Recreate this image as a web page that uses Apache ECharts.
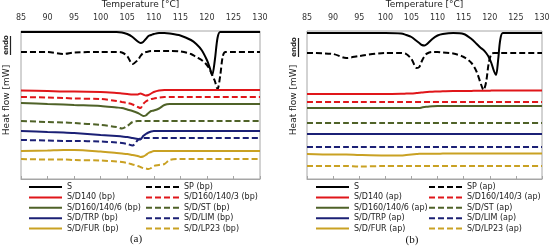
<!DOCTYPE html>
<html>
<head>
<meta charset="utf-8">
<script src="https://cdn.jsdelivr.net/npm/echarts@6/dist/echarts.min.js"></script>
<style>
    html, body { margin: 0; padding: 0; background: #fff; }
    #dsc { width: 550px; height: 249px; }
</style>
</head>
<body>
<div id="dsc"></div>
<script>
// temperatures sampled for panel (a) (bp) and panel (b) (ap)
var tempA = [85, 90, 93, 95, 100, 103, 104, 105, 106, 107, 107.5, 108, 108.5, 109, 109.5, 110, 111, 112, 113, 115, 117, 118, 119, 120, 120.5, 121, 121.5, 122, 122.5, 123, 123.5, 125, 130];
var tempB = [85, 90, 92.5, 95, 100, 103, 104, 105, 106, 106.5, 107, 107.5, 108, 109, 110, 111, 113, 115, 116.5, 117.5, 118.3, 118.8, 119.3, 119.8, 120.3, 120.8, 121.2, 121.6, 122, 122.5, 125, 130];

// heat flow, curves offset vertically (arbitrary units), panel (a)
var sA      = [147, 147, 147, 147, 147, 147, 146.5, 145, 142, 137.5, 136, 137, 140, 143, 144, 145, 146, 146, 145.5, 143.5, 139, 135, 129, 119, 112, 104, 119, 141, 147, 147, 147, 147, 147];
var spA     = [127, 127, 125, 126.5, 127, 127, 126.5, 123, 115, 119, 123, 126, 127, 127.5, 128, 128, 128, 128, 128, 127.5, 125, 122, 119, 114, 110, 104, 98, 90, 103, 123, 127, 127, 127];
var d140A   = [88.5, 88, 87.5, 87.5, 87, 86, 85.5, 85, 84.5, 84.5, 85.5, 84.5, 83.5, 84, 85.5, 87, 88.5, 89, 89, 89, 89, 89, 89, 89, 89, 89, 89, 89, 89, 89, 89, 89, 89];
var d1603A  = [82, 81.5, 81, 80.5, 80, 78, 77, 76, 74.5, 72, 71, 75, 77.5, 79, 80, 80.5, 81.5, 82, 82, 82, 82, 82, 82, 82, 82, 82, 82, 82, 82, 82, 82, 82, 82];
var d1606A  = [76, 75, 74.5, 74, 73, 71.5, 71, 69.5, 68, 66, 64.5, 63, 63.5, 66, 68, 68.5, 70.5, 74, 75, 75, 75, 75, 75, 75, 75, 75, 75, 75, 75, 75, 75, 75, 75];
var stA     = [58, 57, 56.5, 56, 54, 52, 50.5, 53, 57, 58, 58, 58, 58, 58, 58, 58, 58, 58, 58, 58, 58, 58, 58, 58, 58, 58, 58, 58, 58, 58, 58, 58, 58];
var trpA    = [48, 47, 46.5, 46, 44, 43, 42.5, 42, 41, 40, 39.5, 43, 45, 46.5, 47.5, 48, 48, 48, 48, 48, 48, 48, 48, 48, 48, 48, 48, 48, 48, 48, 48, 48, 48];
var limA    = [39, 38.5, 38, 38, 37.5, 36.5, 36, 35, 33.5, 39, 40.5, 41, 41, 41, 41, 41, 41, 41, 41, 41, 41, 41, 41, 41, 41, 41, 41, 41, 41, 41, 41, 41, 41];
var furA    = [28, 28.5, 29, 29, 27.5, 26, 25.5, 25, 24, 23, 22, 22.5, 24, 26, 27, 28, 28, 28, 28, 28, 28, 28, 28, 28, 28, 28, 28, 28, 28, 28, 28, 28, 28];
var lp23A   = [20, 19.5, 19.5, 19, 18.5, 17.5, 17, 16, 14.5, 13, 12, 11, 10.5, 10, 11, 13, 14, 15, 19, 20, 20, 20, 20, 20, 20, 20, 20, 20, 20, 20, 20, 20, 20];

// panel (b)
var sB      = [146, 146, 146, 146, 146, 145.5, 144, 142, 138, 136, 134, 133.5, 135, 140, 143.5, 145, 146, 145, 140, 135, 131, 129, 126, 122, 116, 108, 104, 119, 139, 146, 146, 146];
var spB     = [126, 125, 121, 123, 126, 126, 125, 120, 111, 112, 118, 123, 125.5, 127, 127, 126.5, 125.5, 122, 116, 107, 95, 89, 97, 116, 125, 126, 126, 126, 126, 126, 126, 126];
var d140B   = [85, 85, 85, 85, 85, 85.2, 85.4, 85.6, 86, 86.2, 86.5, 86.8, 87, 87.3, 87.5, 87.7, 88, 88, 88.1, 88.2, 88.2, 88.3, 88.3, 88.3, 88.4, 88.4, 88.4, 88.4, 88.5, 88.5, 88.5, 88.5];
var d1603B  = [77, 77, 77, 77, 77, 77, 77, 77, 77, 77, 77, 77, 77, 77, 77, 77, 77, 77, 77, 77, 77, 77, 77, 77, 77, 77, 77, 77, 77, 77, 77, 77];
var d1606B  = [71, 71, 71, 71, 71, 71, 71, 71, 71, 71, 71.5, 72, 72.2, 72.7, 73, 73, 73, 73, 73, 73, 73, 73, 73, 73, 73, 73, 73, 73, 73, 73, 73, 73];
var stB     = [56, 56, 56, 56, 56, 56, 56, 56, 56, 56, 56, 56, 56, 56, 56, 56, 56, 56, 56, 56, 56, 56, 56, 56, 56, 56, 56, 56, 56, 56, 56, 56];
var trpB    = [45, 45, 45, 45, 45, 45, 45, 45, 45, 45, 45, 45, 45, 45, 45, 45, 45, 45, 45, 45, 45, 45, 45, 45, 45, 45, 45, 45, 45, 45, 45, 45];
var limB    = [32, 32, 32, 32, 32, 32, 32, 32, 32, 32, 32, 32, 32, 32, 32, 32, 32, 32, 32, 32, 32, 32, 32, 32, 32, 32, 32, 32, 32, 32, 32, 32];
var furB    = [25, 24.5, 24.5, 24, 23.5, 23.5, 24, 24.5, 25, 25.2, 25.2, 25.2, 25.3, 25.3, 25.3, 25.4, 25.4, 25.5, 25.5, 25.5, 25.5, 25.5, 25.5, 25.5, 25.5, 25.5, 25.5, 25.5, 25.5, 25.5, 25.5, 25.5];
var lp23B   = [13, 13, 13, 12.5, 13, 13, 13, 13, 13, 13, 13, 13, 13, 13, 13, 13, 13, 13, 13, 13, 13, 13, 13, 13, 13, 13, 13, 13, 13, 13, 13, 13];

var tempTicks = [85, 90, 95, 100, 105, 110, 115, 120, 125, 130];

var BLACK = '#000000', RED = '#e0161a', GREEN = '#4f6228', NAVY = '#1b2075', GOLD = '#c9a123';
var DASH = [6, 3];

function zip(t, v) {
    var out = [];
    for (var i = 0; i < t.length; i++) out.push([t[i], v[i]]);
    return out;
}

function line(name, idx, t, v, color, dashed) {
    return {
        name: name,
        type: 'line',
        xAxisIndex: idx,
        yAxisIndex: idx,
        data: zip(t, v),
        symbol: 'none',
        smooth: 0.3,
        lineStyle: { color: color, width: 2, type: dashed ? DASH : 'solid' },
        // no marker in the legend, only the stroke
        itemStyle: { color: 'rgba(0,0,0,0)', borderColor: 'rgba(0,0,0,0)', borderWidth: 0 }
    };
}

var myChart = echarts.init(document.getElementById('dsc'));

var axisX = function (idx) {
    return {
        type: 'value',
        gridIndex: idx,
        position: 'top',
        min: tempTicks[0],
        max: tempTicks[tempTicks.length - 1],
        interval: 5,
        name: 'Temperature [°C]',
        nameLocation: 'middle',
        nameGap: 22,
        nameTextStyle: { fontFamily: 'DejaVu Sans', fontSize: 9, color: '#222' },
        axisLine: { lineStyle: { color: '#a6a6a6' } },
        axisTick: { length: 3, lineStyle: { color: '#a6a6a6' } },
        axisLabel: { fontFamily: 'DejaVu Sans', fontSize: 8, color: '#333', margin: 9 },
        splitLine: { show: false }
    };
};
var axisY = function (idx) {
    return {
        type: 'value',
        gridIndex: idx,
        min: 0,
        max: 148,
        axisLine: { show: false },
        axisTick: { show: false },
        axisLabel: { show: false },
        splitLine: { show: false }
    };
};
var legendBox = function (left, names) {
    return {
        orient: 'vertical',
        left: left,
        top: 182,
        itemWidth: 33,
        itemHeight: 10,
        itemGap: 0.4,
        padding: 0,
        data: names,
        textStyle: { fontFamily: 'DejaVu Sans', fontSize: 8, color: '#222', lineHeight: 10 }
    };
};
var sideText = function (x, y, txt, size, bold) {
    return {
        type: 'text',
        x: x, y: y,
        rotation: Math.PI / 2,
        style: {
            text: txt, fill: '#222', align: 'center', verticalAlign: 'middle',
            font: (bold ? 'bold ' : '') + size + 'px "DejaVu Sans"'
        }
    };
};

option = {
    backgroundColor: '#fff',
    animation: false,
    grid: [
        { left: 21, top: 31, width: 239, height: 148, outerBoundsMode: 'none', containLabel: false, show: true, borderColor: '#a6a6a6', borderWidth: 1, backgroundColor: 'transparent' },
        { left: 307, top: 31, width: 235, height: 148, outerBoundsMode: 'none', containLabel: false, show: true, borderColor: '#a6a6a6', borderWidth: 1, backgroundColor: 'transparent' }
    ],
    xAxis: [axisX(0), axisX(1)],
    yAxis: [axisY(0), axisY(1)],
    legend: [
        legendBox(28, ['S', 'S/D140 (bp)', 'S/D160/140/6 (bp)', 'S/D/TRP (bp)', 'S/D/FUR (bp)']),
        legendBox(145, ['SP (bp)', 'S/D160/140/3 (bp)', 'S/D/ST (bp)', 'S/D/LIM (bp)', 'S/D/LP23 (bp)']),
        legendBox(315, ['S', 'S/D140 (ap)', 'S/D160/140/6 (ap)', 'S/D/TRP (ap)', 'S/D/FUR (ap)']),
        legendBox(428, ['SP (ap)', 'S/D160/140/3 (ap)', 'S/D/ST (ap)', 'S/D/LIM (ap)', 'S/D/LP23 (ap)'])
    ],
    graphic: [
        sideText(7, 100, 'Heat flow [mW]', 9, false),
        sideText(6, 45, 'endo', 7, true),
        { type: 'line', shape: { x1: 10.5, y1: 36, x2: 10.5, y2: 55 }, style: { stroke: '#222', lineWidth: 1.2 } },
        sideText(294, 100, 'Heat flow [mW]', 9, false),
        sideText(294, 47, 'endo', 7, true),
        { type: 'line', shape: { x1: 298.5, y1: 38, x2: 298.5, y2: 57 }, style: { stroke: '#222', lineWidth: 1.2 } },
        { type: 'text', x: 136, y: 239, style: { text: '(a)', fill: '#111', align: 'center', verticalAlign: 'middle', font: '11px "Liberation Serif"' } },
        { type: 'text', x: 412, y: 240, style: { text: '(b)', fill: '#111', align: 'center', verticalAlign: 'middle', font: '11px "Liberation Serif"' } }
    ],
    series: [
        line('S', 0, tempA, sA, BLACK, false),
        line('SP (bp)', 0, tempA, spA, BLACK, true),
        line('S/D140 (bp)', 0, tempA, d140A, RED, false),
        line('S/D160/140/3 (bp)', 0, tempA, d1603A, RED, true),
        line('S/D160/140/6 (bp)', 0, tempA, d1606A, GREEN, false),
        line('S/D/ST (bp)', 0, tempA, stA, GREEN, true),
        line('S/D/TRP (bp)', 0, tempA, trpA, NAVY, false),
        line('S/D/LIM (bp)', 0, tempA, limA, NAVY, true),
        line('S/D/FUR (bp)', 0, tempA, furA, GOLD, false),
        line('S/D/LP23 (bp)', 0, tempA, lp23A, GOLD, true),

        line('S', 1, tempB, sB, BLACK, false),
        line('SP (ap)', 1, tempB, spB, BLACK, true),
        line('S/D140 (ap)', 1, tempB, d140B, RED, false),
        line('S/D160/140/3 (ap)', 1, tempB, d1603B, RED, true),
        line('S/D160/140/6 (ap)', 1, tempB, d1606B, GREEN, false),
        line('S/D/ST (ap)', 1, tempB, stB, GREEN, true),
        line('S/D/TRP (ap)', 1, tempB, trpB, NAVY, false),
        line('S/D/LIM (ap)', 1, tempB, limB, NAVY, true),
        line('S/D/FUR (ap)', 1, tempB, furB, GOLD, false),
        line('S/D/LP23 (ap)', 1, tempB, lp23B, GOLD, true)
    ]
};

myChart.setOption(option);
</script>
</body>
</html>
